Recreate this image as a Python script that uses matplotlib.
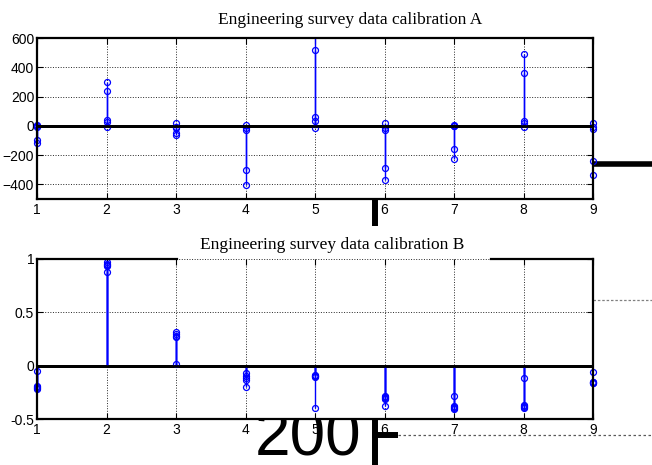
import matplotlib
matplotlib.use('Agg')
import matplotlib.pyplot as plt
from matplotlib.transforms import Bbox, TransformedBbox

plt.rcParams['font.family'] = ['Liberation Sans', 'DejaVu Sans']

# x positions of the stems
xs = [1, 2, 3, 4, 5, 6, 7, 8, 9]

# calibration A, five series
a1 = [8, 297, 17, 5, 680, 17, 3, 493, 17]
a2 = [-3, 236, -13, -12, 520, -15, -2, 358, -6]
a3 = [-8, 40, -50, -28, 58, -30, 0, 35, -24]
a4 = [-97, 26, -62, -302, 30, -288, -160, 21, -243]
a5 = [-115, -6, -8, -407, -15, -373, -230, -10, -334]

# calibration B, five series
b1 = [-0.05, 0.97, 0.32, -0.07, -0.09, -0.28, -0.28, -0.12, -0.06]
b2 = [-0.19, 0.95, 0.30, -0.10, -0.10, -0.29, -0.38, -0.37, -0.15]
b3 = [-0.21, 0.94, 0.28, -0.12, -0.11, -0.30, -0.39, -0.38, -0.16]
b4 = [-0.22, 0.93, 0.27, -0.13, -0.10, -0.31, -0.40, -0.39, -0.15]
b5 = [-0.20, 0.88, 0.02, -0.20, -0.40, -0.38, -0.41, -0.40, -0.16]

yticks_a = [-400, -200, 0, 200, 400, 600]
yticks_b = [-0.5, 0, 0.5, 1]
yticklabels_b = ['-0.5', '0', '0.5', '1']

title_a = 'Engineering survey data calibration A'
title_b = 'Engineering survey data calibration B'

W, H = 652, 465
fig = plt.figure(figsize=(W / 100, H / 100), dpi=100)


def px(x0, y0, x1, y1):
    # pixel box (top-left origin) -> figure fraction rect
    return [x0 / W, 1 - y1 / H, (x1 - x0) / W, (y1 - y0) / H]


# stray pieces of an old, bigger axes lying behind the two plots
bg = fig.add_axes([0, 0, 1, 1], zorder=-1)
bg.set_xlim(0, W)
bg.set_ylim(H, 0)
bg.axis('off')
bg.plot([375, 375], [200, 226], color='k', lw=4.3, solid_capstyle='butt')
bg.plot([375, 375], [410, 465], color='k', lw=4.3, solid_capstyle='butt')
bg.plot([372, 398], [435, 435], color='k', lw=4.3, solid_capstyle='butt')
bg.plot([398, 652], [435, 435], color='0.35', lw=0.9, ls=(0, (2, 2)))
bg.plot([593, 652], [300, 300], color='0.5', lw=0.9, ls=(0, (2, 1.5)))
bg.plot([593, 652], [164.5, 164.5], color='k', lw=4.0, solid_capstyle='butt')
bg.text(255, 455, '200', fontsize=46, ha='left', va='baseline', color='k')


def stems(ax, series):
    for s in series:
        ml, sl, bl = ax.stem(xs, s, linefmt='b-', markerfmt='bo', basefmt='k-')
        ml.set_markerfacecolor('none')
        ml.set_markeredgecolor((0, 0, 1))
        ml.set_markersize(4.3)
        ml.set_markeredgewidth(0.9)
        ml.set_clip_box(TransformedBbox(Bbox([[-0.015, 0], [1.015, 1]]), ax.transAxes))
        sl.set_color((0, 0, 1))
        sl.set_linewidth(1.0)
        bl.set_linewidth(1.8)
        bl.set_color('k')


def style(ax):
    ax.set_xlim(1, 9)
    ax.set_xticks(xs)
    ax.grid(True, color='0.15', ls=':', lw=0.7)
    ax.set_axisbelow(True)
    ax.tick_params(direction='in', length=4, width=0.8, top=True, right=True,
                   labelsize=10, pad=3)
    ax.tick_params(axis='y', pad=2)
    for sp in ax.spines.values():
        sp.set_linewidth(1.6)


ax1 = fig.add_axes(px(37, 38, 593, 199))
stems(ax1, [a1, a2, a3, a4, a5])
style(ax1)
ax1.set_ylim(-500, 600)
ax1.set_yticks(yticks_a)

ax2 = fig.add_axes(px(37, 259, 593, 419))
stems(ax2, [b1, b2, b3, b4, b5])
style(ax2)
ax2.set_ylim(-0.5, 1)
ax2.set_yticks(yticks_b)
ax2.set_yticklabels(yticklabels_b)
# top border of B is broken in the middle
ax2.spines['top'].set_visible(False)
tr = ax2.get_xaxis_transform()
ax2.plot([1, 3.01], [1, 1], color='k', lw=1.6, transform=tr, clip_on=False)
ax2.plot([7.53, 9], [1, 1], color='k', lw=1.6, transform=tr, clip_on=False)

fig.text(218 / W, 1 - 23.5 / H, title_a, family=['Liberation Serif', 'DejaVu Serif'],
         fontsize=12.5, ha='left', va='baseline')
fig.text(200 / W, 1 - 248.5 / H, title_b, family=['Liberation Serif', 'DejaVu Serif'],
         fontsize=12.5, ha='left', va='baseline')

fig.savefig('out.png', dpi=100, facecolor='white')
